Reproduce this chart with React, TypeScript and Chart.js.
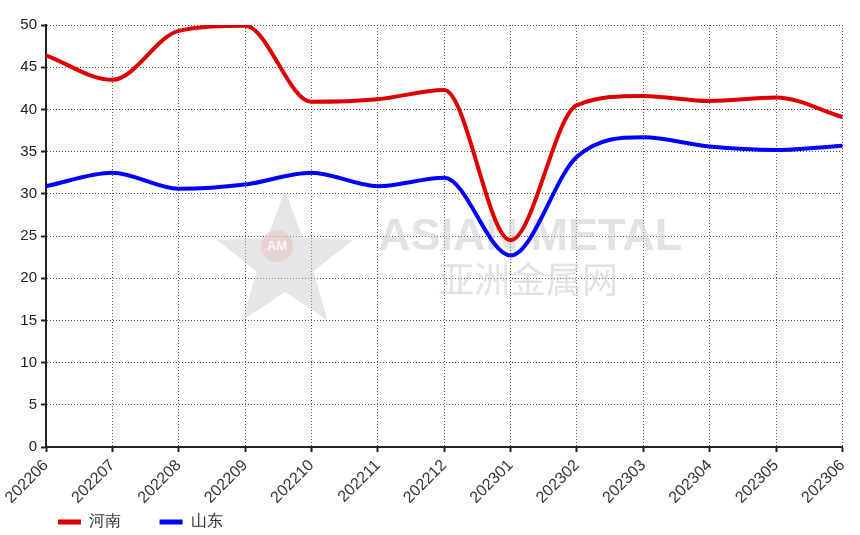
import React, { useEffect, useRef } from "react";
import { Chart, registerables } from "chart.js";

Chart.register(...registerables);

const categories = ["202206", "202207", "202208", "202209", "202210", "202211", "202212", "202301", "202302", "202303", "202304", "202305", "202306"];
const henan = [46.4, 43.5, 49.3, 49.9, 40.9, 41.2, 42.3, 24.5, 40.5, 41.6, 41.0, 41.4, 39.1];
const shandong = [30.9, 32.5, 30.6, 31.1, 32.5, 30.9, 31.9, 22.7, 34.4, 36.7, 35.6, 35.2, 35.7];
const seriesNames = ["河南", "山东"];

const watermark = {
  id: "watermark",
  beforeDatasetsDraw(chart: any) {
    const ctx = chart.ctx;
    ctx.save();
    const cx = 285, cy = 262, R = 72, r = 30;
    ctx.beginPath();
    for (let i = 0; i < 10; i++) {
      const ang = -Math.PI / 2 + (i * Math.PI) / 5;
      const rad = i % 2 === 0 ? R : r;
      const x = cx + rad * Math.cos(ang);
      const y = cy + rad * Math.sin(ang);
      if (i === 0) ctx.moveTo(x, y);
      else ctx.lineTo(x, y);
    }
    ctx.closePath();
    ctx.fillStyle = "rgba(200,200,200,0.45)";
    ctx.fill();
    ctx.beginPath();
    ctx.arc(cx - 8, cy - 16, 16, 0, Math.PI * 2);
    ctx.fillStyle = "rgba(235,190,190,0.5)";
    ctx.fill();
    ctx.fillStyle = "rgba(255,255,255,0.8)";
    ctx.font = "bold 13px 'Liberation Sans', Arial, sans-serif";
    ctx.textAlign = "center";
    ctx.textBaseline = "middle";
    ctx.fillText("AM", cx - 8, cy - 16);
    ctx.fillStyle = "rgba(200,200,200,0.5)";
    ctx.font = "bold 45px 'Liberation Sans', Arial, sans-serif";
    ctx.textAlign = "left";
    ctx.textBaseline = "alphabetic";
    ctx.fillText("ASIAN METAL", 378, 250);
    ctx.font = "36px 'Noto Sans CJK SC', sans-serif";
    ctx.fillText("亚洲金属网", 438, 293);
    ctx.restore();
  },
};

const legendShift = {
  id: "legendShift",
  afterLayout(chart: any) {
    const lg = chart.legend;
    if (lg) {
      lg.left += 55;
      lg.right += 55;
      lg.top += 5;
      lg.bottom += 5;
    }
  },
};

export default function App() {
  const ref = useRef<HTMLCanvasElement>(null);
  useEffect(() => {
    document.body.style.margin = "0";
    const font = "'Liberation Sans', Arial, sans-serif";
    const gridOpts = {
      color: "#555",
      lineWidth: 1,
      drawTicks: true,
      tickLength: 5,
      tickColor: "#222",
      tickBorderDash: [],
      tickWidth: 2,
    };
    const chart = new Chart(ref.current!, {
      type: "line",
      data: {
        labels: categories,
        datasets: [
          {
            label: seriesNames[0],
            data: henan,
            borderColor: "#dd0000",
            backgroundColor: "#dd0000",
            borderWidth: 4,
            pointRadius: 0,
            cubicInterpolationMode: "monotone",
          },
          {
            label: seriesNames[1],
            data: shandong,
            borderColor: "#0000ff",
            backgroundColor: "#0000ff",
            borderWidth: 4,
            pointRadius: 0,
            cubicInterpolationMode: "monotone",
          },
        ],
      },
      options: {
        animation: false,
        responsive: false,
        maintainAspectRatio: false,
        layout: { padding: { top: 25, right: 9, left: 0, bottom: 0 } },
        plugins: {
          tooltip: { enabled: false },
          legend: {
            position: "bottom",
            align: "start",
            labels: {
              boxWidth: 23,
              boxHeight: 5,
              padding: 3,
              color: "#333",
              font: { family: font, size: 16 },
              generateLabels(chart: any) {
                return chart.data.datasets.map((d: any, i: number) => ({
                  text: d.label + (i === 0 ? "        " : ""),
                  fillStyle: d.borderColor,
                  strokeStyle: d.borderColor,
                  lineWidth: 0,
                  hidden: false,
                  datasetIndex: i,
                  fontColor: "#333",
                }));
              },
            },
          },
        },
        scales: {
          x: {
            offset: false,
            afterFit(scale: any) {
              scale.height = 59;
            },
            grid: gridOpts,
            border: { color: "#222", width: 2, dash: [1, 2] },
            ticks: {
              minRotation: 45,
              maxRotation: 45,
              autoSkip: false,
              color: "#333",
              font: { family: font, size: 16 },
              padding: 4,
            },
          },
          y: {
            min: 0,
            max: 50,
            afterFit(scale: any) {
              scale.width = 46;
            },
            grid: gridOpts,
            border: { color: "#222", width: 2, dash: [1, 2] },
            ticks: {
              stepSize: 5,
              color: "#222",
              font: { family: font, size: 15 },
              padding: 4,
            },
          },
        },
      },
      plugins: [watermark, legendShift],
    } as any);
    return () => chart.destroy();
  }, []);
  return (
    <div style={{ width: 860, height: 535 }}>
      <canvas ref={ref} width={860} height={535} style={{ width: 860, height: 535, display: "block" }} />
    </div>
  );
}
